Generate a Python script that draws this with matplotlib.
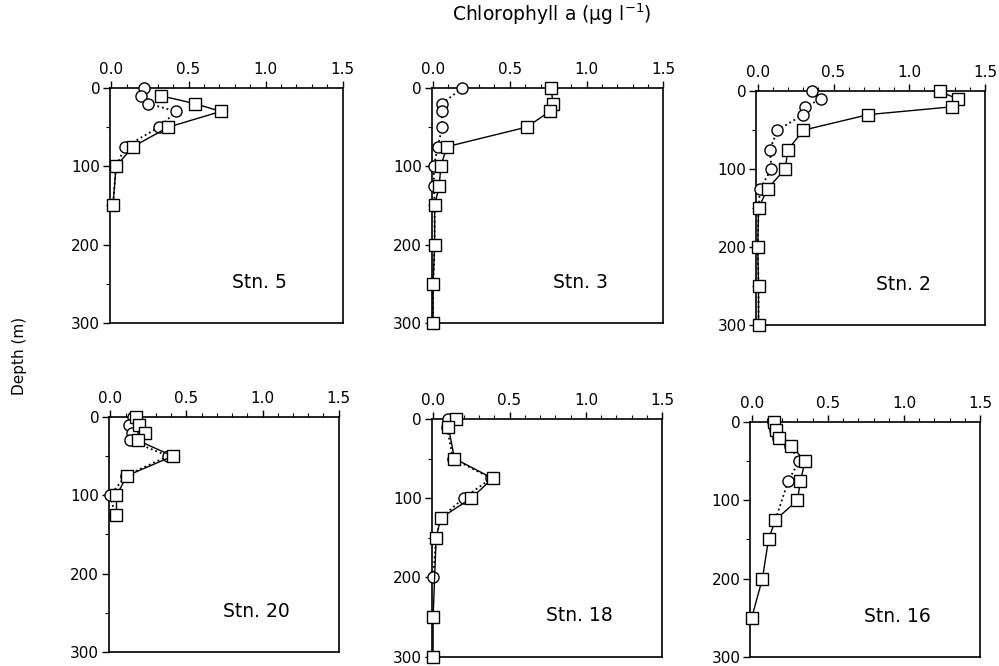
import matplotlib

matplotlib.use("Agg")
import matplotlib.pyplot as plt
from matplotlib.ticker import MultipleLocator

plt.rcParams["font.family"] = ["DejaVu Sans"]

stations = ["Stn. 5", "Stn. 3", "Stn. 2", "Stn. 20", "Stn. 18", "Stn. 16"]

# squares, solid line
stn5_sq_depth = [10, 20, 30, 50, 75, 100, 150]
stn5_sq_chl = [0.32, 0.54, 0.71, 0.37, 0.14, 0.03, 0.01]
stn3_sq_depth = [0, 20, 30, 50, 75, 100, 125, 150, 200, 250, 300]
stn3_sq_chl = [0.77, 0.78, 0.76, 0.61, 0.09, 0.05, 0.04, 0.01, 0.01, 0.0, 0.0]
stn2_sq_depth = [0, 10, 20, 30, 50, 75, 100, 125, 150, 200, 250, 300]
stn2_sq_chl = [1.20, 1.32, 1.28, 0.73, 0.30, 0.20, 0.18, 0.065, 0.005, 0.0, 0.005, 0.005]
stn20_sq_depth = [0, 10, 20, 30, 50, 75, 100, 125]
stn20_sq_chl = [0.17, 0.19, 0.23, 0.18, 0.41, 0.11, 0.04, 0.04]
stn18_sq_depth = [0, 10, 50, 75, 100, 125, 150, 250, 300]
stn18_sq_chl = [0.15, 0.10, 0.14, 0.39, 0.25, 0.05, 0.02, 0.0, 0.0]
stn16_sq_depth = [0, 10, 20, 30, 50, 75, 100, 125, 150, 200, 250]
stn16_sq_chl = [0.145, 0.16, 0.18, 0.26, 0.35, 0.32, 0.30, 0.155, 0.11, 0.07, 0.0]

# circles, dotted line
stn5_ci_depth = [0, 10, 20, 30, 50, 75, 100, 150]
stn5_ci_chl = [0.21, 0.19, 0.24, 0.42, 0.31, 0.09, 0.03, 0.01]
stn3_ci_depth = [0, 20, 30, 50, 75, 100, 125, 150, 200, 250, 300]
stn3_ci_chl = [0.19, 0.06, 0.055, 0.06, 0.03, 0.005, 0.005, 0.01, 0.01, 0.0, 0.0]
stn2_ci_depth = [0, 10, 20, 30, 50, 75, 100, 125, 150, 200, 250, 300]
stn2_ci_chl = [0.36, 0.42, 0.31, 0.30, 0.13, 0.08, 0.09, 0.015, 0.005, 0.0, 0.005, 0.005]
stn20_ci_depth = [0, 10, 20, 30, 50, 75, 100, 125]
stn20_ci_chl = [0.15, 0.12, 0.14, 0.13, 0.38, 0.10, 0.0, 0.03]
stn18_ci_depth = [0, 10, 50, 75, 100, 125, 150, 200]
stn18_ci_chl = [0.10, 0.09, 0.13, 0.38, 0.20, 0.05, 0.02, 0.0]
stn16_ci_depth = [0, 10, 20, 30, 50, 75, 125]
stn16_ci_chl = [0.14, 0.15, 0.17, 0.25, 0.31, 0.24, 0.155]

sq_depths = [stn5_sq_depth, stn3_sq_depth, stn2_sq_depth, stn20_sq_depth, stn18_sq_depth, stn16_sq_depth]
sq_chls = [stn5_sq_chl, stn3_sq_chl, stn2_sq_chl, stn20_sq_chl, stn18_sq_chl, stn16_sq_chl]
ci_depths = [stn5_ci_depth, stn3_ci_depth, stn2_ci_depth, stn20_ci_depth, stn18_ci_depth, stn16_ci_depth]
ci_chls = [stn5_ci_chl, stn3_ci_chl, stn2_ci_chl, stn20_ci_chl, stn18_ci_chl, stn16_ci_chl]

# axes boxes [left, bottom, width, height] in figure fraction
boxes = [
    [0.110, 0.515, 0.233, 0.353],
    [0.432, 0.515, 0.232, 0.353],
    [0.757, 0.512, 0.229, 0.351],
    [0.109, 0.021, 0.230, 0.353],
    [0.432, 0.014, 0.231, 0.357],
    [0.751, 0.014, 0.230, 0.352],
]

fig = plt.figure(figsize=(9.99, 6.66), dpi=100)

for name, box, sd, sc, cd, cc in zip(stations, boxes, sq_depths, sq_chls, ci_depths, ci_chls):
    ax = fig.add_axes(box)
    ax.plot(cc, cd, linestyle=":", color="black", linewidth=1.3, marker="o", markersize=8,
            markerfacecolor="white", markeredgecolor="black", markeredgewidth=1.0, clip_on=False, zorder=3)
    ax.plot(sc, sd, linestyle="-", color="black", linewidth=1.0, marker="s", markersize=9,
            markerfacecolor="white", markeredgecolor="black", markeredgewidth=1.0, clip_on=False, zorder=4)
    ax.set_xlim(-0.01, 1.5)
    ax.set_ylim(300, 0)
    ax.xaxis.set_major_locator(MultipleLocator(0.5))
    ax.xaxis.set_minor_locator(MultipleLocator(0.1))
    ax.yaxis.set_major_locator(MultipleLocator(100))
    ax.yaxis.set_minor_locator(MultipleLocator(50))
    ax.set_xticks([0.0, 0.5, 1.0, 1.5])
    ax.set_xticklabels(["0.0", "0.5", "1.0", "1.5"])
    ax.xaxis.tick_top()
    ax.tick_params(axis="x", which="major", direction="out", length=5, width=1.0, labelsize=11, pad=3)
    ax.tick_params(axis="x", which="minor", direction="out", length=3, width=0.8)
    ax.tick_params(axis="y", which="major", direction="out", length=5, width=1.0, labelsize=11, pad=2)
    ax.tick_params(axis="y", which="minor", direction="out", length=3, width=0.8)
    for spine in ax.spines.values():
        spine.set_linewidth(1.2)
    ax.text(0.96, 248, name, ha="center", va="center", fontsize=13.5)

fig.text(0.552, 0.979, "Chlorophyll a (\u00b5g l$^{-1}$)", ha="center", va="center", fontsize=13.5)
fig.text(0.020, 0.465, "Depth (m)", ha="center", va="center", rotation=90, fontsize=11)

fig.savefig("out.png", dpi=100)
